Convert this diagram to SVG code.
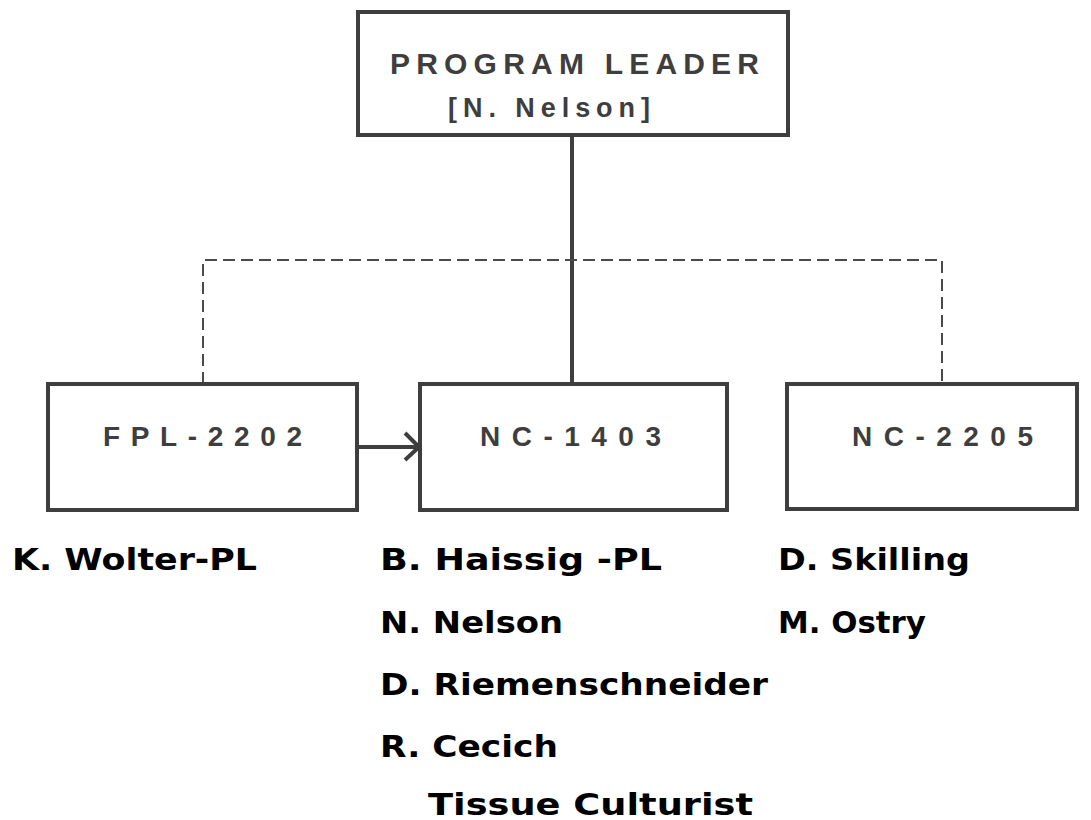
<svg xmlns="http://www.w3.org/2000/svg" width="1091" height="820" viewBox="0 0 1091 820">
  <style>
    .box { fill: none; stroke: #3e3e3e; stroke-width: 4; }
    .boxtxt { font-family: "Liberation Sans", Arial, sans-serif; font-weight: bold; fill: #3e3e3e; }
    .solid { fill: none; stroke: #3e3e3e; stroke-width: 4; }
    .dash { fill: none; stroke: #4a4a4a; stroke-width: 2; stroke-dasharray: 12 6; }
    .name { font-family: "DejaVu Sans", Verdana, sans-serif; font-weight: bold; font-size: 31px; fill: #000; }
  </style>
  <rect width="1091" height="820" fill="#ffffff"/>

  <g id="connectors">
    <line class="solid" x1="572" y1="135" x2="572" y2="384"/>
    <polyline class="dash" points="203,384 203,260 942,260 942,384"/>
    <line class="solid" x1="357" y1="447" x2="418" y2="447"/>
    <polyline class="solid" points="405,433 419,447 405,460"/>
  </g>

  <g id="program-leader">
    <rect class="box" x="358" y="12" width="430" height="123"/>
    <text class="boxtxt" x="390" y="74" font-size="30" textLength="369" lengthAdjust="spacing">PROGRAM LEADER</text>
    <text class="boxtxt" x="448" y="117" font-size="27" textLength="202" lengthAdjust="spacing">[N. Nelson]</text>
  </g>

  <g id="fpl-2202">
    <rect class="box" x="48" y="384" width="309" height="126"/>
    <text class="boxtxt" x="103" y="446" font-size="28" textLength="199" lengthAdjust="spacing">FPL-2202</text>
  </g>

  <g id="nc-1403">
    <rect class="box" x="420" y="384" width="307" height="126"/>
    <text class="boxtxt" x="480" y="446" font-size="28" textLength="181" lengthAdjust="spacing">NC-1403</text>
  </g>

  <g id="nc-2205">
    <rect class="box" x="787" y="384" width="290" height="125"/>
    <text class="boxtxt" x="852" y="446" font-size="28" textLength="181" lengthAdjust="spacing">NC-2205</text>
  </g>

  <g id="staff">
    <text class="name" x="12" y="570" textLength="245" lengthAdjust="spacingAndGlyphs">K. Wolter-PL</text>
    <text class="name" x="380" y="570" textLength="282" lengthAdjust="spacingAndGlyphs">B. Haissig -PL</text>
    <text class="name" x="778" y="570" textLength="192" lengthAdjust="spacingAndGlyphs">D. Skilling</text>
    <text class="name" x="380" y="633" textLength="183" lengthAdjust="spacingAndGlyphs">N. Nelson</text>
    <text class="name" x="778" y="633" textLength="148" lengthAdjust="spacingAndGlyphs">M. Ostry</text>
    <text class="name" x="380" y="695" textLength="388" lengthAdjust="spacingAndGlyphs">D. Riemenschneider</text>
    <text class="name" x="380" y="757" textLength="178" lengthAdjust="spacingAndGlyphs">R. Cecich</text>
    <text class="name" x="428" y="815" textLength="325" lengthAdjust="spacingAndGlyphs">Tissue Culturist</text>
  </g>
</svg>
